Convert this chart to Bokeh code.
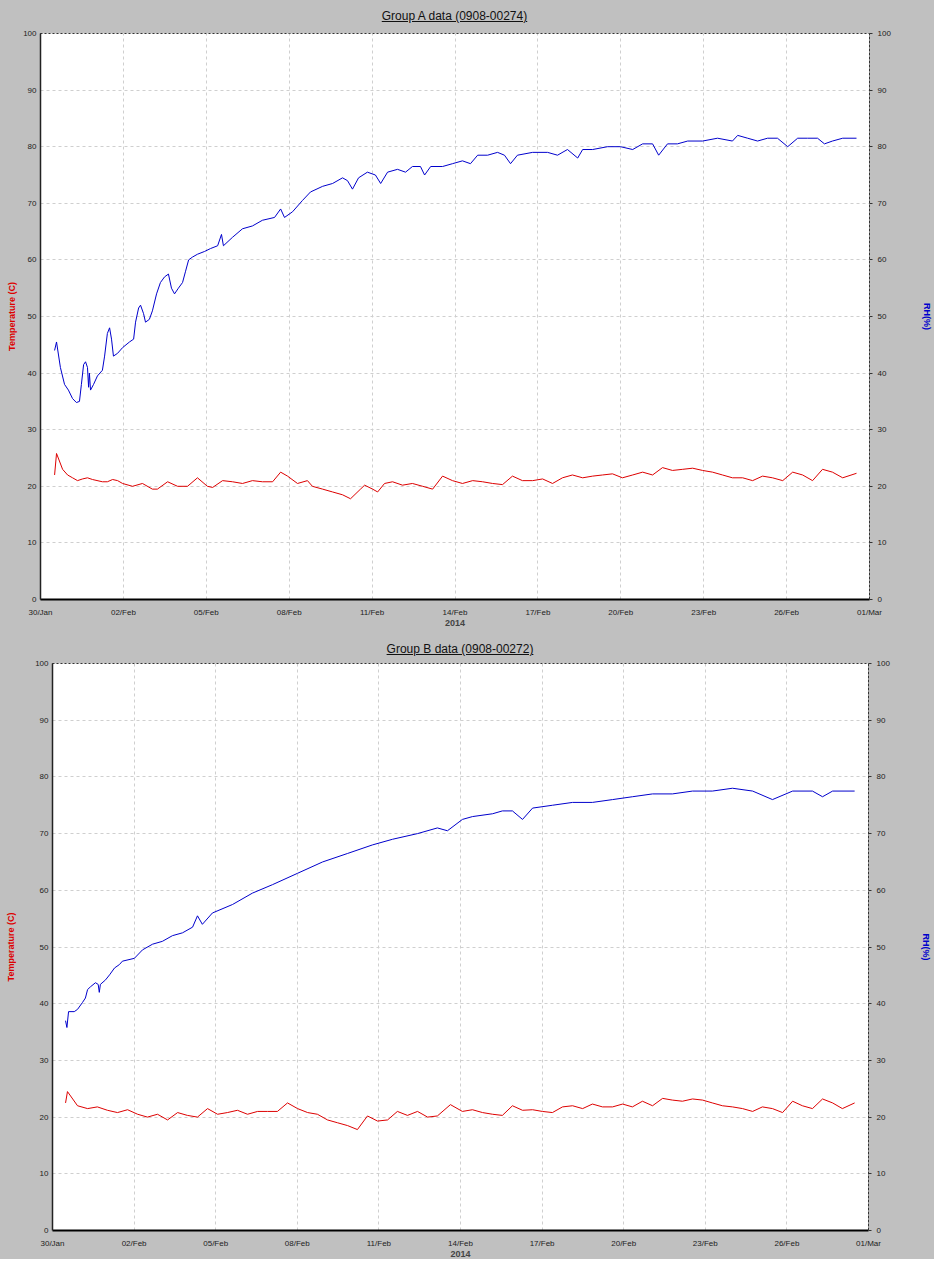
import pandas as pd
from bokeh.plotting import figure
from bokeh.layouts import column
from bokeh.models import (LinearAxis, Range1d, FixedTicker, DatetimeTickFormatter, Div)
from bokeh.embed import file_html
from bokeh.resources import INLINE

# ---------------- data (days since 2014-01-30 00:00) ----------------
T0 = pd.Timestamp("2014-01-30")
T1 = pd.Timestamp("2014-03-01")
x_tick_dates = ["2014-01-30", "2014-02-02", "2014-02-05", "2014-02-08", "2014-02-11",
                "2014-02-14", "2014-02-17", "2014-02-20", "2014-02-23", "2014-02-26",
                "2014-03-01"]
y_ticks = [0, 10, 20, 30, 40, 50, 60, 70, 80, 90, 100]

titles = ["Group A data (0908-00274)", "Group B data (0908-00272)"]
year_label = "2014"

# Group A - RH (%)
a_rh_days = [0.51, 0.58, 0.72, 0.87, 1.01, 1.16, 1.30, 1.41, 1.48, 1.56,
             1.63, 1.70, 1.74, 1.77, 1.81, 1.92, 2.06, 2.24, 2.32, 2.42,
             2.50, 2.57, 2.64, 2.79, 2.97, 3.22, 3.37, 3.44, 3.55, 3.62,
             3.73, 3.80, 3.94, 4.05, 4.20, 4.34, 4.49, 4.63, 4.74, 4.85,
             4.99, 5.14, 5.25, 5.36, 5.50, 5.68, 5.94, 6.15, 6.41, 6.55,
             6.62, 6.95, 7.31, 7.67, 8.03, 8.47, 8.69, 8.83, 9.12, 9.48,
             9.77, 10.21, 10.57, 10.93, 11.11, 11.29, 11.51, 11.83, 12.12, 12.31,
             12.56, 12.92, 13.21, 13.46, 13.75, 13.90, 14.12, 14.55, 14.91, 15.27,
             15.56, 15.82, 16.18, 16.54, 16.79, 17.01, 17.26, 17.81, 18.35, 18.71,
             19.07, 19.44, 19.62, 19.98, 20.52, 20.99, 21.43, 21.79, 22.15, 22.37,
             22.69, 23.05, 23.42, 23.96, 24.50, 25.04, 25.23, 25.59, 25.95, 26.31,
             26.67, 27.04, 27.40, 27.76, 28.12, 28.37, 28.66, 29.03, 29.53]
a_rh = [44, 45.5, 41, 38, 37, 35.5, 34.8, 35, 38, 41.5,
        42, 41, 37.5, 40, 37, 38, 39.5, 40.5, 43, 47,
        48, 46, 43, 43.5, 44.5, 45.5, 46, 49, 51.5, 52,
        50.5, 49, 49.5, 51, 54, 56, 57, 57.5, 55, 54,
        55, 56, 58, 60, 60.5, 61, 61.5, 62, 62.5, 64.5,
        62.5, 64, 65.5, 66, 67, 67.5, 69, 67.5, 68.5, 70.5,
        72, 73, 73.5, 74.5, 74, 72.5, 74.5, 75.5, 75, 73.5,
        75.5, 76, 75.5, 76.5, 76.5, 75, 76.5, 76.5, 77, 77.5,
        77, 78.5, 78.5, 79, 78.5, 77, 78.5, 79, 79, 78.5,
        79.5, 78, 79.5, 79.5, 80, 80, 79.5, 80.5, 80.5, 78.5,
        80.5, 80.5, 81, 81, 81.5, 81, 82, 81.5, 81, 81.5,
        81.5, 80, 81.5, 81.5, 81.5, 80.5, 81, 81.5, 81.5]

# Group A - Temperature (C)
a_t_days = [0.51, 0.58, 0.80, 0.98, 1.16, 1.34, 1.52, 1.70, 1.88, 2.24, 2.42, 2.61, 2.79,
            2.97, 3.33, 3.69, 4.05, 4.23, 4.60, 4.96, 5.32, 5.68, 6.04, 6.23, 6.59, 6.95,
            7.31, 7.67, 8.03, 8.40, 8.69, 8.94, 9.30, 9.66, 9.84, 10.21, 10.57, 10.93,
            11.22, 11.58, 11.73, 12.02, 12.20, 12.45, 12.74, 13.10, 13.46, 13.83, 14.19,
            14.55, 14.91, 15.27, 15.64, 16.00, 16.36, 16.72, 17.08, 17.44, 17.81, 18.17,
            18.53, 18.89, 19.25, 19.62, 19.98, 20.34, 20.70, 21.06, 21.43, 21.79, 22.15,
            22.51, 22.87, 23.24, 23.60, 23.96, 24.32, 24.68, 25.04, 25.41, 25.77, 26.13,
            26.49, 26.86, 27.22, 27.58, 27.94, 28.30, 28.66, 29.03, 29.53]
a_temp = [22, 25.8, 23, 22, 21.5, 21, 21.3, 21.5, 21.2, 20.8, 20.8, 21.2, 21,
          20.5, 20, 20.5, 19.5, 19.5, 20.8, 20, 20, 21.5, 20, 19.8, 21, 20.8,
          20.5, 21, 20.8, 20.8, 22.5, 21.8, 20.5, 21, 20, 19.5, 19, 18.5,
          17.8, 19.5, 20.2, 19.5, 19, 20.5, 20.8, 20.2, 20.5, 20, 19.5,
          21.8, 21, 20.5, 21, 20.8, 20.5, 20.3, 21.8, 21, 21, 21.3,
          20.5, 21.5, 22, 21.5, 21.8, 22, 22.2, 21.5, 22, 22.5, 22,
          23.3, 22.8, 23, 23.2, 22.8, 22.5, 22, 21.5, 21.5, 21, 21.8,
          21.5, 21, 22.5, 22, 21, 23, 22.5, 21.5, 22.3]

# Group B - RH (%)
b_rh_days = [0.48, 0.53, 0.59, 0.80, 0.92, 1.10, 1.21, 1.29, 1.40, 1.58, 1.68, 1.72, 1.76,
             1.95, 2.10, 2.28, 2.46, 2.57, 3.01, 3.31, 3.68, 4.04, 4.41, 4.78, 5.15, 5.33,
             5.51, 5.88, 6.62, 7.35, 8.09, 9.01, 9.93, 10.85, 11.76, 12.50, 13.42, 14.15,
             14.52, 15.07, 15.44, 16.18, 16.54, 16.91, 17.28, 17.65, 18.38, 19.12, 19.85,
             20.59, 21.32, 22.06, 22.79, 23.53, 24.26, 25.00, 25.74, 26.47, 27.21, 27.94,
             28.31, 28.68, 29.49]
b_rh = [37, 35.8, 38.6, 38.6, 39, 40.2, 41, 42.5, 43, 43.7, 43.4, 42, 43.4,
        44.2, 45.1, 46.3, 46.9, 47.5, 48, 49.5, 50.5, 51, 52, 52.5, 53.5, 55.5,
        54, 56, 57.5, 59.5, 61, 63, 65, 66.5, 68, 69, 70, 71,
        70.5, 72.5, 73, 73.5, 74, 74, 72.5, 74.5, 75, 75.5, 75.5,
        76, 76.5, 77, 77, 77.5, 77.5, 78, 77.5, 76, 77.5, 77.5,
        76.5, 77.5, 77.5]

# Group B - Temperature (C)
b_t_days = [0.48, 0.55, 0.92, 1.29, 1.65, 2.02, 2.39, 2.76, 3.13, 3.49, 3.86, 4.23, 4.60,
            4.96, 5.33, 5.70, 6.07, 6.43, 6.80, 7.17, 7.54, 7.90, 8.27, 8.64, 9.01, 9.38,
            9.74, 10.11, 10.48, 10.85, 11.21, 11.58, 11.95, 12.32, 12.68, 13.05, 13.42,
            13.79, 14.15, 14.63, 15.07, 15.44, 15.81, 16.18, 16.54, 16.91, 17.28, 17.65,
            18.01, 18.38, 18.75, 19.12, 19.49, 19.85, 20.22, 20.59, 20.96, 21.32, 21.69,
            22.06, 22.43, 22.79, 23.16, 23.53, 23.90, 24.26, 24.63, 25.00, 25.37, 25.74,
            26.10, 26.47, 26.84, 27.21, 27.57, 27.94, 28.31, 28.68, 29.04, 29.49]
b_temp = [22.5, 24.5, 22, 21.5, 21.8, 21.2, 20.8, 21.3, 20.5, 20, 20.5, 19.5, 20.8,
          20.3, 20, 21.5, 20.5, 20.8, 21.2, 20.5, 21, 21, 21, 22.5, 21.5, 20.8,
          20.5, 19.5, 19, 18.5, 17.8, 20.2, 19.3, 19.5, 21, 20.3, 21,
          20, 20.2, 22.2, 21, 21.3, 20.8, 20.5, 20.3, 22, 21.2, 21.3,
          21, 20.8, 21.8, 22, 21.5, 22.3, 21.8, 21.8, 22.3, 21.8, 22.8,
          22, 23.3, 23, 22.8, 23.2, 23, 22.5, 22, 21.8, 21.5, 21,
          21.8, 21.5, 20.8, 22.8, 22, 21.5, 23.2, 22.5, 21.5, 22.5]

# ---------------- styling ----------------
BG = "#c0c0c0"
FONT = "Liberation Sans"
RED = "#dd0000"
BLUE = "#0000cc"
W = 934


def to_time(days):
    return [T0 + pd.Timedelta(days=float(d)) for d in days]


x_ticks_ms = [pd.Timestamp(d).value // 10**6 for d in x_tick_dates]


def title_div(text, bl, frame_w, height, pad_top):
    html = ("<div style=\"margin-left:%dpx;width:%dpx;padding-top:%dpx;text-align:center;"
            "font-family:'Liberation Sans',Arial,sans-serif;font-size:12px;color:#111111;"
            "line-height:14px;\"><u>%s</u></div>" % (bl, frame_w, pad_top, text))
    return Div(text=html, width=W, height=height, margin=0,
               styles={"background-color": BG})


def make_fig(t_days, temp, r_days, rh, height, bl, br, bt, bb, lstand, rstand):
    p = figure(width=W, height=height, x_axis_type="datetime",
               x_range=Range1d(T0, T1), y_range=Range1d(0, 100),
               output_backend="svg", toolbar_location=None,
               min_border_left=bl, min_border_right=br,
               min_border_top=bt, min_border_bottom=bb,
               styles={"background-color": BG})
    p.border_fill_color = BG
    p.background_fill_color = "white"
    p.outline_line_color = "#333333"
    p.outline_line_dash = "2 2"
    p.outline_line_width = 1

    xt = FixedTicker(ticks=x_ticks_ms)
    xa = p.xaxis[0]
    xa.ticker = xt
    xa.formatter = DatetimeTickFormatter(days="%d/%b", months="%d/%b", hours="%d/%b",
                                         years="%d/%b")
    xa.axis_label = year_label
    xa.axis_label_text_font = FONT
    xa.axis_label_text_font_size = "9px"
    xa.axis_label_text_font_style = "bold"
    xa.axis_label_standoff = 0
    xa.major_label_text_font = FONT
    xa.major_label_text_font_size = "8px"
    xa.major_label_text_color = "#222222"
    xa.major_label_standoff = 8
    xa.axis_line_color = "black"
    xa.axis_line_width = 2
    xa.major_tick_out = 0
    xa.major_tick_in = 0
    xa.minor_tick_out = 0
    xa.minor_tick_in = 0
    p.xgrid.ticker = xt

    yt = FixedTicker(ticks=y_ticks)
    ya = p.yaxis[0]
    ya.ticker = yt
    ya.axis_label = "Temperature (C)"
    ya.axis_label_text_color = RED
    ya.axis_label_text_font = FONT
    ya.axis_label_text_font_size = "9px"
    ya.axis_label_text_font_style = "bold"
    ya.axis_label_standoff = lstand
    ya.major_label_text_font = FONT
    ya.major_label_text_font_size = "8px"
    ya.major_label_text_color = "#222222"
    ya.major_label_standoff = 4
    ya.axis_line_color = "#222222"
    ya.axis_line_width = 1.5
    ya.major_tick_out = 0
    ya.major_tick_in = 0
    ya.minor_tick_out = 0
    ya.minor_tick_in = 0
    p.ygrid.ticker = yt

    ra = LinearAxis(ticker=yt, axis_label="RH(%)")
    ra.axis_label_text_color = BLUE
    ra.axis_label_text_font = FONT
    ra.axis_label_text_font_size = "9px"
    ra.axis_label_text_font_style = "bold"
    ra.axis_label_standoff = rstand
    ra.major_label_text_font = FONT
    ra.major_label_text_font_size = "8px"
    ra.major_label_text_color = "#222222"
    ra.major_label_standoff = 5
    ra.axis_line_color = "#333333"
    ra.axis_line_dash = "2 2"
    ra.major_tick_out = 3
    ra.major_tick_in = 0
    ra.major_tick_line_color = "#333333"
    ra.minor_tick_out = 0
    ra.minor_tick_in = 0
    p.add_layout(ra, "right")

    for g in (p.xgrid, p.ygrid):
        g.grid_line_color = "#cfcfcf"
        g.grid_line_dash = "3 3"
        g.grid_line_width = 1

    p.line(to_time(t_days), temp, line_color=RED, line_width=1)
    p.line(to_time(r_days), rh, line_color=BLUE, line_width=1)
    return p


# Chart A: frame x 48..877, y 41..607 (page coords)
div_a = title_div(titles[0], 40, 829, 25, 9)
pa = make_fig(a_t_days, a_temp, a_rh_days, a_rh, 607, 40, 65, 8, 33, 3, 28)
# Chart B: frame x 60..876, y 671..1238
div_b = title_div(titles[1], 52, 816, 25, 10)
pb = make_fig(b_t_days, b_temp, b_rh_days, b_rh, 602, 52, 66, 6, 29, 16, 28)

root_a = column(div_a, pa, spacing=0, styles={"background-color": BG})
root_b = column(div_b, pb, spacing=0, styles={"background-color": BG})
open("out.html", "w").write(file_html([root_a, root_b], INLINE))
